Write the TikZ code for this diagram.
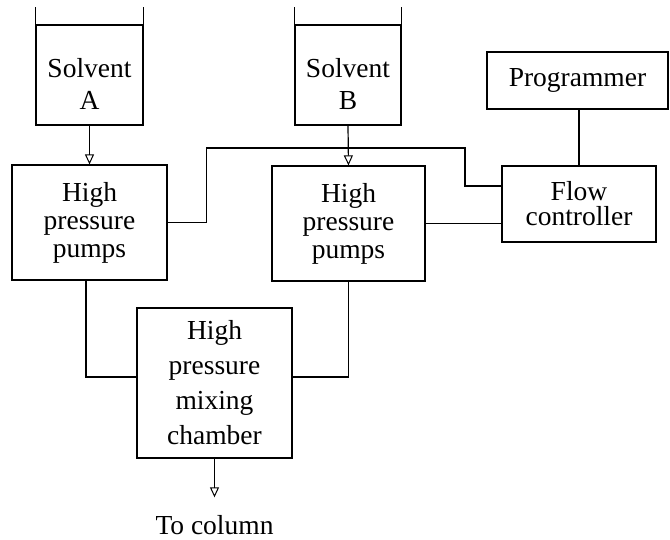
\documentclass[tikz,border=0pt]{standalone}
\usepackage{fontspec}
\setmainfont{Liberation Serif}
\usetikzlibrary{arrows.meta}
\begin{document}
\begin{tikzpicture}[x=1pt,y=-1pt,
  line width=1.2pt,
  unit/.style={draw, inner sep=0pt, align=center, font=\fontsize{27.5}{28}\selectfont},
  lbl/.style={inner sep=0pt, align=center, font=\fontsize{27.5}{32}\selectfont},
  flowtip/.style={-{Triangle[open, length=10pt, width=9pt, line width=1pt]}}
]
\useasboundingbox (0,0) rectangle (670,540);

% solvent reservoirs: open-topped vessels with a liquid level line
\node[unit, minimum width=107pt, minimum height=100pt] (solA) at (89.5,75) {};
\node[lbl] (solAtxt) at (89.5,84) {Solvent\\A};
\draw (solA.north west) -- ++(0,-17);
\draw (solA.north east) -- ++(0,-17);

\node[unit, minimum width=106pt, minimum height=100pt] (solB) at (348,75) {};
\node[lbl] (solBtxt) at (348,84) {Solvent\\B};
\draw (solB.north west) -- ++(0,-17);
\draw (solB.north east) -- ++(0,-17);

% pumps
\node[unit, minimum width=155pt, minimum height=115pt] (pumpA) at (89.5,222.5)
  {High\\pressure\\pumps};
\node[unit, minimum width=153pt, minimum height=115pt] (pumpB) at (348.5,223.5)
  {High\\pressure\\pumps};

% control units
\node[unit, minimum width=181pt, minimum height=57pt] (prog) at (577.5,80.5) {Programmer};
\node[unit, minimum width=154pt, minimum height=76pt, font=\fontsize{27.5}{25}\selectfont]
  (flow) at (579,204) {Flow\\controller};

% mixing chamber
\node[unit, minimum width=155pt, minimum height=150pt, font=\fontsize{27.5}{35}\selectfont]
  (mix) at (214.5,383) {High\\pressure\\mixing\\chamber};

\node[lbl, anchor=base] (col) at (214.5,534) {To column};

% solvent feeds
\draw[flowtip] (solA.south) -- (pumpA.north);
\draw[flowtip] (solB.south) -- (pumpB.north);

% control lines
\draw (pumpA.east) -- ++(39,0) |- (465,148) |- ([yshift=18pt]flow.west);
\draw (pumpB.east) -- (pumpB.east -| flow.west);
\draw (flow.north |- prog.south) -- (flow.north);

% pump outputs into mixing chamber
\draw (pumpA.south -| 86,0) |- ([yshift=6pt]mix.west);
\draw (pumpB.south) |- ([yshift=6pt]mix.east);

% outlet
\draw[flowtip, shorten >=17pt] (mix.south) -- (col.north);
\end{tikzpicture}
\end{document}
